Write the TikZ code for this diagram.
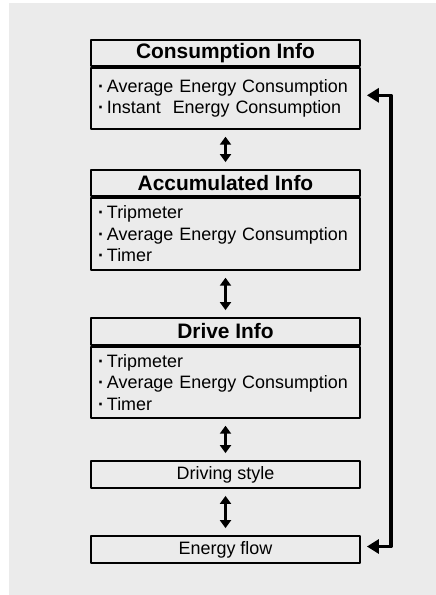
\documentclass[tikz,border=0pt]{standalone}
\usepackage{fontspec}
\setmainfont{Liberation Sans}
\usetikzlibrary{arrows.meta}
\definecolor{panel}{RGB}{235,235,235}
\newcommand{\itemdot}{{\bfseries·}\hspace{3bp}}

\begin{document}
\begin{tikzpicture}[x=1bp,y=-1bp,line cap=round,line join=round,
  headbox/.style={draw,line width=1.8bp,minimum width=269bp,inner sep=0pt,
    font=\fontsize{21}{24}\selectfont\bfseries},
  listbox/.style={draw,line width=1.8bp,text width=255bp,inner xsep=7bp,inner ysep=0pt,
    align=left,font=\fontsize{18}{21.5}\selectfont},
  linebox/.style={draw,line width=1.8bp,minimum width=269bp,minimum height=27bp,inner sep=0pt,
    font=\fontsize{18}{21.5}\selectfont},
  dblarrow/.style={line width=3bp,{Triangle[width=11bp,length=8bp]}-{Triangle[width=11bp,length=8bp]},
    shorten <=7bp,shorten >=7bp},
  backarrow/.style={line width=3.5bp,{Triangle[width=14bp,length=12bp]}-{Triangle[width=14bp,length=12bp]},
    shorten <=6bp,shorten >=6bp}]
  \useasboundingbox (0,0) rectangle (436,595);
  \fill[panel] (9,3) rectangle (436,595);
  % boxes
  \node[headbox,minimum height=26bp] (cons) at (225.5,53) {Consumption Info};
  \node[listbox,minimum height=61bp,anchor=north] (consbody) at (cons.south)
    {\itemdot Average Energy Consumption\\\itemdot Instant~ Energy Consumption};
  \node[headbox,minimum height=26bp] (accu) at (225.5,183) {Accumulated Info};
  \node[listbox,minimum height=72bp,anchor=north] (accubody) at (accu.south)
    {\itemdot Tripmeter\\\itemdot Average Energy Consumption\\\itemdot Timer};
  \node[headbox,minimum height=27bp] (drive) at (225.5,331.5) {Drive Info};
  \node[listbox,minimum height=71bp,anchor=north] (drivebody) at (drive.south)
    {\itemdot Tripmeter\\\itemdot Average Energy Consumption\\\itemdot Timer};
  \node[linebox] (style) at (225.5,474.5) {Driving style};
  \node[linebox] (flow) at (225.5,549.5) {Energy flow};
  % arrows
  \draw[dblarrow] (consbody) -- (accu);
  \draw[dblarrow] (accubody) -- (drive);
  \draw[dblarrow] (drivebody) -- (style);
  \draw[dblarrow] (style) -- (flow);
  \draw[backarrow] ([yshift=3bp]consbody.east) -- ++(30,0) |- ([yshift=3bp]flow.east);
\end{tikzpicture}
\end{document}
